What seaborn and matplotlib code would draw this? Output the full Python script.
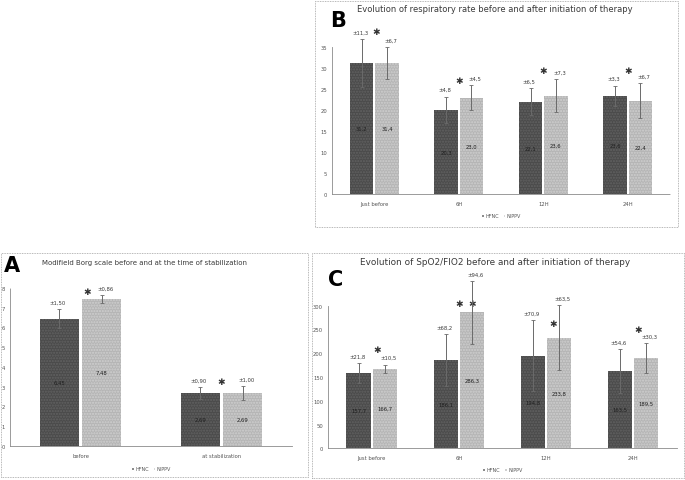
import numpy as np
import pandas as pd
import matplotlib
matplotlib.use("Agg")
import matplotlib.pyplot as plt
import seaborn as sns
from matplotlib.patches import Rectangle

# ---- panel A : modified Borg scale ----
a_cats = ["before", "at stabilization"]
a_hfnc = [6.45, 2.70]
a_nippv = [7.45, 2.70]
a_hfnc_err = [0.50, 0.30]
a_nippv_err = [0.20, 0.35]
a_hfnc_sd = ["±1,50", "±0,90"]
a_nippv_sd = ["±0,86", "±1,00"]
a_hfnc_txt = ["6,45", "2,69"]
a_nippv_txt = ["7,48", "2,69"]
a_star_dx = [[0.05], [0.0]]
a_star_y = [7.8, 3.26]

# ---- panel B : respiratory rate ----
b_cats = ["Just before", "6H", "12H", "24H"]
b_hfnc = [31.2, 20.1, 22.0, 23.4]
b_nippv = [31.2, 22.9, 23.4, 22.2]
b_hfnc_err = [5.7, 3.1, 3.3, 2.4]
b_nippv_err = [3.7, 3.0, 3.9, 4.2]
b_hfnc_sd = ["±11,3", "±4,8", "±6,5", "±3,3"]
b_nippv_sd = ["±6,7", "±4,5", "±7,3", "±6,7"]
b_hfnc_txt = ["31,2", "20,3", "22,1", "23,6"]
b_nippv_txt = ["31,4", "23,0", "23,6", "22,4"]
b_star_dx = [[0.02], [0.0], [0.0], [0.0]]
b_star_y = [38.8, 27.1, 29.5, 29.5]

# ---- panel C : SpO2/FiO2 ----
c_cats = ["Just before", "6H", "12H", "24H"]
c_hfnc = [158, 186, 195, 163]
c_nippv = [167, 286, 233, 190]
c_hfnc_err = [21, 54, 74, 46]
c_nippv_err = [9, 66, 69, 32]
c_hfnc_sd = ["±21,8", "±68,2", "±70,9", "±54,6"]
c_nippv_sd = ["±10,5", "±94,6", "±63,5", "±30,3"]
c_hfnc_txt = ["157,7", "186,1", "194,8", "163,5"]
c_nippv_txt = ["166,7", "286,3", "233,8", "189,5"]
c_star_dx = [[0.06], [0.0, 0.15], [0.08], [0.06]]
c_star_y = [208, 305, 263, 250]

groups = ["HFNC", "NIPPV"]
colors = {"HFNC": "#4b4b4b", "NIPPV": "#b5b5b5"}
hatch_col = {"HFNC": "#626262", "NIPPV": "#cfcfcf"}
TXT = "#3a3a3a"


def draw_panel(ax, cats, hfnc, nippv, hfnc_err, nippv_err, hfnc_sd, nippv_sd,
               hfnc_txt, nippv_txt, star_dx, star_y, ylim, step):
    df = pd.DataFrame({
        "cat": cats * 2,
        "val": hfnc + nippv,
        "grp": ["HFNC"] * len(cats) + ["NIPPV"] * len(cats),
    })
    sns.barplot(data=df, x="cat", y="val", hue="grp", hue_order=groups,
                palette=colors, width=0.6, gap=0.08, errorbar=None,
                saturation=1, ax=ax, legend=True)
    errs = hfnc_err + nippv_err
    sds = hfnc_sd + nippv_sd
    txts = hfnc_txt + nippv_txt
    bars = ax.patches[:2 * len(cats)]
    for i, bar in enumerate(bars):
        g = "HFNC" if i < len(cats) else "NIPPV"
        bar.set_hatch("......")
        bar.set_edgecolor(hatch_col[g])
        bar.set_linewidth(0)
        x = bar.get_x() + bar.get_width() / 2
        h = bar.get_height()
        ax.errorbar(x, h, yerr=errs[i], color="#6a6a6a", lw=0.7,
                    capsize=1.2, capthick=0.6, clip_on=False, zorder=5)
        ax.annotate(sds[i], (x, h + errs[i]),
                    xytext=(-1 if g == "HFNC" else 2.5, 5),
                    textcoords="offset points", ha="center", va="center",
                    fontsize=3.8, color=TXT, annotation_clip=False)
        ax.text(x, h / 2, txts[i], ha="center", va="center", fontsize=3.8,
                color="#1e1e1e", zorder=6)
    for j, cat in enumerate(cats):
        for dx in star_dx[j]:
            ax.text(j + dx, star_y[j], "✱", ha="center", va="center",
                    fontsize=6.5, color="#333333", clip_on=False)
    ax.set_ylim(*ylim)
    ax.set_yticks(np.arange(ylim[0], ylim[1] + step / 2, step))
    ax.set_xlim(-0.5, len(cats) - 0.5)
    ax.set_xlabel("")
    ax.set_ylabel("")
    ax.tick_params(axis="both", labelsize=3.8, colors="#555555", length=1.5,
                   width=0.4, pad=2)
    ax.tick_params(axis="x", length=0, pad=5)
    for s in ["top", "right"]:
        ax.spines[s].set_visible(False)
    for s in ["left", "bottom"]:
        ax.spines[s].set_linestyle((0, (1, 1)))
        ax.spines[s].set_color("#8a8a8a")
        ax.spines[s].set_linewidth(0.6)
    ax.set_facecolor("white")
    leg = ax.legend(loc="upper center", bbox_to_anchor=(0.5, -0.1), ncol=2,
                    fontsize=3.5, frameon=False, handlelength=0.6,
                    handleheight=0.6, handletextpad=0.3, columnspacing=0.8)
    for t in leg.get_texts():
        t.set_color("#555555")


sns.set_style("white")
fig = plt.figure(figsize=(6.85, 4.81), dpi=100)

axA = fig.add_axes([0.0146, 0.0707, 0.4117, 0.3285])
axB = fig.add_axes([0.4847, 0.5946, 0.4934, 0.3056])
axC = fig.add_axes([0.4788, 0.0659, 0.5095, 0.2965])

draw_panel(axA, a_cats, a_hfnc, a_nippv, a_hfnc_err, a_nippv_err, a_hfnc_sd,
           a_nippv_sd, a_hfnc_txt, a_nippv_txt, a_star_dx, a_star_y, (0, 8), 1)
draw_panel(axB, b_cats, b_hfnc, b_nippv, b_hfnc_err, b_nippv_err, b_hfnc_sd,
           b_nippv_sd, b_hfnc_txt, b_nippv_txt, b_star_dx, b_star_y, (0, 35), 5)
draw_panel(axC, c_cats, c_hfnc, c_nippv, c_hfnc_err, c_nippv_err, c_hfnc_sd,
           c_nippv_sd, c_hfnc_txt, c_nippv_txt, c_star_dx, c_star_y, (0, 300), 50)

# panel frames (dotted)
for (x0, y0, x1, y1) in [(1, 254, 308, 478), (315, 2, 678, 228), (312, 254, 684, 479)]:
    fig.add_artist(Rectangle((x0 / 685, 1 - y1 / 481), (x1 - x0) / 685, (y1 - y0) / 481,
                             transform=fig.transFigure, fill=False,
                             edgecolor="#a0a0a0", lw=0.6, ls=(0, (1, 1))))

# titles and panel letters
fig.text(145 / 685, 1 - 263 / 481, "Modifield Borg scale before and at the time of stabilization",
         ha="center", va="center", fontsize=5.0, color=TXT)
fig.text(495 / 685, 1 - 10 / 481, "Evolution of respiratory rate before and after initiation of therapy",
         ha="center", va="center", fontsize=6.0, color=TXT)
fig.text(495 / 685, 1 - 263 / 481, "Evolution of SpO2/FIO2 before and after initiation of therapy",
         ha="center", va="center", fontsize=6.4, color=TXT)
fig.text(12 / 685, 1 - 266 / 481, "A", ha="center", va="center", fontsize=15,
         fontweight="bold", color="black")
fig.text(338 / 685, 1 - 21 / 481, "B", ha="center", va="center", fontsize=15,
         fontweight="bold", color="black")
fig.text(336 / 685, 1 - 280 / 481, "C", ha="center", va="center", fontsize=15,
         fontweight="bold", color="black")

fig.savefig("out.png", dpi=100, facecolor="white")
